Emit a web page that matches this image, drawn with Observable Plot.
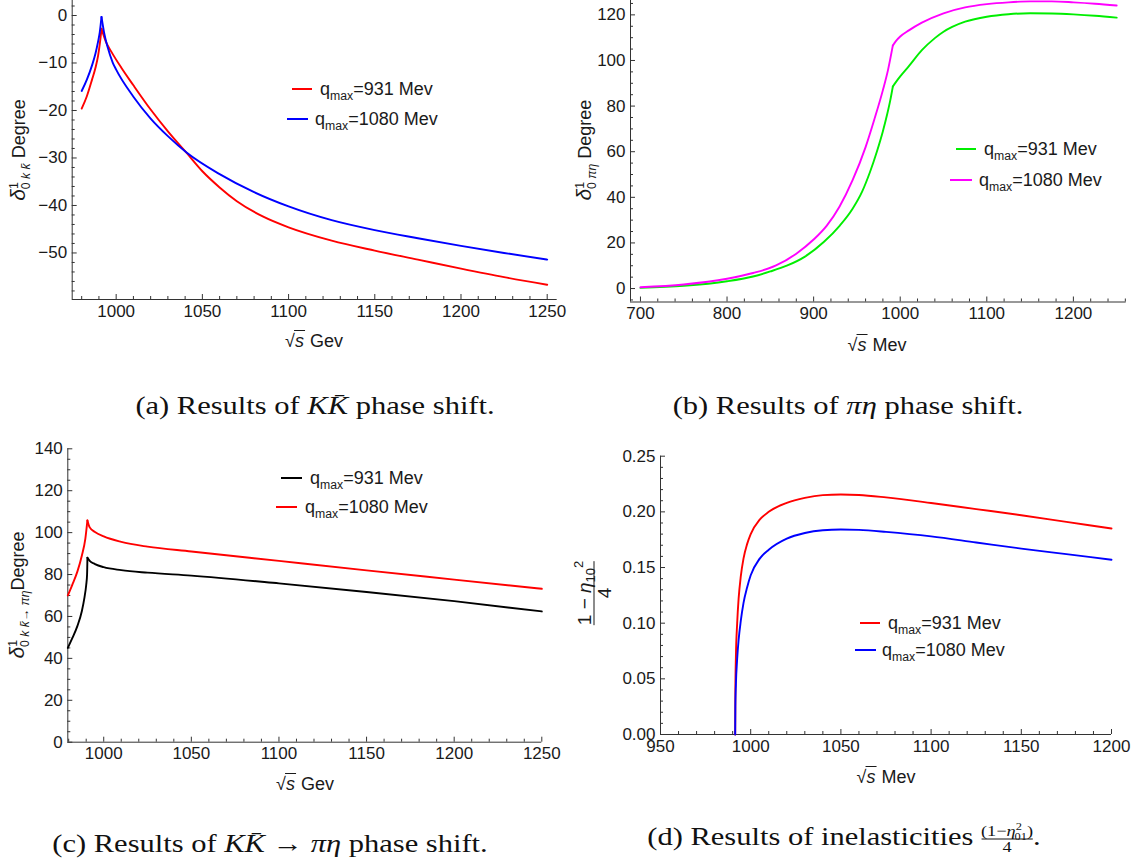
<!DOCTYPE html>
<html><head><meta charset="utf-8">
<script src="https://cdn.jsdelivr.net/npm/d3@7"></script>
<script src="https://cdn.jsdelivr.net/npm/@observablehq/plot@0.6"></script>
<style>
body{margin:0;background:#fff;}
#root{position:relative;width:1134px;height:860px;overflow:hidden;font-family:"Liberation Sans",Arial,sans-serif;color:#1a1a1a;}
#root svg{position:absolute;}
.lab{position:absolute;white-space:nowrap;font-size:18px;line-height:1;}
.rot{transform:translate(-50%,-50%) rotate(-90deg);}
.ctr{transform:translate(-50%,-50%);}
.leg{position:absolute;white-space:nowrap;font-size:18px;line-height:1;transform:translateY(-50%);}
.sw{position:absolute;height:0;border-top:2px solid;}
.cap{position:absolute;white-space:nowrap;font-family:"Liberation Serif","DejaVu Serif",serif;font-size:25px;line-height:1;transform:translate(-50%,-50%) scaleX(1.22);color:#111;}
sub,sup{font-size:0.68em;line-height:0;}
.rad{border-top:1.4px solid #1a1a1a;padding:0 1px;margin-left:-1px;}
.frac{display:inline-flex;flex-direction:column;align-items:center;vertical-align:middle;}
.frac .den{border-top:1.2px solid;width:100%;text-align:center;}
</style></head>
<body><div id="root"></div>
<script>
// ---------- data ----------
// (a) K Kbar phase shift
const aX931 = [980, 983, 986, 988, 989.5, 990.5, 991.5, 994, 997, 1003, 1010, 1020, 1030, 1041, 1050, 1060, 1070, 1085, 1100, 1125, 1150, 1175, 1200, 1225, 1250];
const aY931 = [-19.6, -17, -13.5, -11, -8.5, -6, -2.8, -5.5, -7.5, -11, -14.7, -19.8, -24.4, -29.0, -32.8, -36.2, -39.1, -42.3, -44.6, -47.4, -49.5, -51.4, -53.3, -55.1, -56.7];
const aX1080 = [980, 983, 986, 988, 989.5, 990.5, 991.5, 993, 995, 998, 1000, 1010, 1020, 1030, 1041, 1060, 1080, 1100, 1125, 1150, 1175, 1200, 1225, 1250];
const aY1080 = [-15.9, -13.5, -10.5, -8, -5.5, -3.5, -0.3, -3.6, -6.6, -9.9, -11.4, -17.1, -21.7, -25.4, -28.9, -33.4, -37.2, -40.2, -43.1, -45.2, -46.9, -48.5, -50, -51.4];
const aKink = 991.5;
const aXTicks = [1000, 1050, 1100, 1150, 1200, 1250];
const aYTicks = [0, -10, -20, -30, -40, -50];

// (b) pi eta phase shift
const bX931 = [700, 750, 800, 830, 850, 869, 890, 912, 930, 945, 956, 965, 973, 980, 985, 988.5, 991.5, 995, 1000, 1010, 1025, 1040, 1050, 1060, 1075, 1100, 1125, 1150, 1175, 1200, 1225, 1250];
const bY931 = [0.3, 1.2, 3.2, 5.3, 7.5, 10, 14, 20.5, 27.5, 35, 42.5, 51, 60, 69, 76.5, 82.5, 88.6, 90.5, 93, 97.5, 104.5, 109.8, 112.6, 114.7, 117, 119.2, 120.3, 120.7, 120.6, 120.2, 119.6, 118.8];
const bX1080 = [700, 750, 800, 830, 856, 880, 900, 915, 930, 945, 960, 970, 980, 986, 991.5, 995, 1000, 1010, 1025, 1050, 1075, 1100, 1125, 1150, 1175, 1200, 1225, 1250];
const bY1080 = [0.6, 1.8, 4.3, 6.8, 10, 15.3, 21.5, 27.5, 36, 47.5, 62, 74, 87, 96, 106.6, 108.5, 110.5, 113.2, 116.6, 120.7, 123.3, 124.7, 125.5, 125.9, 125.9, 125.5, 124.9, 124.1];
const bKink = 991.5;
const bXTicks = [700, 800, 900, 1000, 1100, 1200];
const bYTicks = [0, 20, 40, 60, 80, 100, 120];

// (c) K Kbar -> pi eta phase shift
const cX931 = [979.5, 982, 985, 987.5, 989, 990, 990.5, 990.7, 992, 995, 1000, 1010, 1025, 1050, 1100, 1150, 1200, 1250];
const cY931 = [45, 49.5, 55.5, 62.5, 69, 75, 80, 88, 86.5, 85, 83.5, 82.1, 80.9, 79.5, 75.8, 71.7, 67.3, 62.4];
const cX1080 = [979.5, 982, 985, 987.5, 989.5, 990.7, 992, 995, 1000, 1010, 1025, 1050, 1100, 1150, 1200, 1250];
const cY1080 = [70, 75, 81.5, 89, 97, 105.8, 102.5, 100.3, 98.2, 95.6, 93.3, 91, 86.5, 82, 77.6, 73.2];
const cKink = 990.7;
const cXTicks = [1000, 1050, 1100, 1150, 1200, 1250];
const cYTicks = [0, 20, 40, 60, 80, 100, 120, 140];

// (d) inelasticities
const dX931 = [991.4, 991.5, 991.8, 992.5, 993.3, 994.5, 996, 998, 1000, 1005, 1010, 1020, 1030, 1040, 1050, 1060, 1075, 1100, 1125, 1150, 1175, 1200];
const dY931 = [0, 0.04, 0.07, 0.1, 0.122, 0.142, 0.158, 0.171, 0.18, 0.193, 0.2, 0.208, 0.2125, 0.215, 0.2156, 0.2152, 0.213, 0.208, 0.2025, 0.197, 0.191, 0.185];
const dX1080 = [991.4, 991.5, 991.8, 992.5, 993.3, 994.5, 996, 998, 1000, 1005, 1010, 1020, 1030, 1040, 1050, 1060, 1075, 1100, 1125, 1150, 1175, 1200];
const dY1080 = [0, 0.025, 0.045, 0.068, 0.085, 0.102, 0.118, 0.132, 0.143, 0.158, 0.166, 0.176, 0.181, 0.1835, 0.1842, 0.1838, 0.182, 0.178, 0.1725, 0.167, 0.162, 0.157];
const dXTicks = [950, 1000, 1050, 1100, 1150, 1200];
const dYTicks = [0, 0.05, 0.10, 0.15, 0.20, 0.25];

const series = ["q_max=931 Mev", "q_max=1080 Mev"];

// ---------- helpers ----------
function rows(xs, ys, kink) {
  const out = [];
  xs.forEach((x, i) => {
    if (kink == null) { out.push({x, y: ys[i], z: 0}); return; }
    if (x <= kink) out.push({x, y: ys[i], z: 0});
    if (x >= kink) out.push({x, y: ys[i], z: 1});
  });
  return out;
}
const minus = d => d < 0 ? "\u2212" + Math.abs(d) : String(d);
const root = document.getElementById("root");
const AX = "#333";

function panel(o) {
  const iw = o.width - o.mL - o.mR, ih = o.height - o.mT - o.mB;
  const xMinor = d3.range(o.xMinor[0], o.xMinor[1] + 1e-9, o.xMinor[2]).filter(v => !o.xTicks.some(t => Math.abs(t - v) < 1e-9));
  const yMinor = d3.range(o.yMinor[0], o.yMinor[1] + 1e-9, o.yMinor[2]).filter(v => !o.yTicks.some(t => Math.abs(t - v) < 1e-9));
  const marks = [
    Plot.ruleY([o.yDom[0]], {stroke: AX, strokeWidth: 1}),
    Plot.ruleX([o.xDom[0]], {stroke: AX, strokeWidth: 1}),
    Plot.tickX(o.xTicks, {x: d => d, insetTop: ih - 5, stroke: AX}),
    Plot.tickX(xMinor, {x: d => d, insetTop: ih - 3, stroke: AX}),
    Plot.tickY(o.yTicks, {y: d => d, insetRight: iw - 5, stroke: AX}),
    Plot.tickY(yMinor, {y: d => d, insetRight: iw - 3, stroke: AX}),
    Plot.axisX(o.xTicks, {tickSize: 0, tickPadding: 5, tickFormat: d => String(d), fill: "#1a1a1a", label: null}),
    Plot.axisY(o.yTicks, {tickSize: 0, tickPadding: 5, tickFormat: o.yFmt, fill: "#1a1a1a", label: null})
  ];
  o.lines.forEach(l => marks.push(Plot.line(l.data, {x: "x", y: "y", z: "z", stroke: l.color, strokeWidth: 1.9, curve: "monotone-x"})));
  const svg = Plot.plot({
    width: o.width, height: o.height,
    marginLeft: o.mL, marginRight: o.mR, marginTop: o.mT, marginBottom: o.mB,
    x: {domain: o.xDom, label: null}, y: {domain: o.yDom, label: null},
    style: {fontFamily: '"Liberation Sans", Arial, sans-serif', fontSize: "17px", background: "transparent", overflow: "visible"},
    marks
  });
  svg.style.left = o.left + "px";
  svg.style.top = o.top + "px";
  root.appendChild(svg);
}

function html(cls, x, y, inner, extra) {
  const d = document.createElement("div");
  d.className = cls;
  d.style.left = x + "px"; d.style.top = y + "px";
  if (extra) Object.assign(d.style, extra);
  d.innerHTML = inner;
  root.appendChild(d);
  return d;
}
function legend(x0, x1, y, tx, color, label) {
  html("sw", x0, y - 1, "", {width: (x1 - x0) + "px", borderTopColor: color});
  const [q, rest] = label.split("_max");
  html("leg", tx, y, q + "<sub>max</sub>" + rest);
}
const sqrtS = '√<span class="rad"><i>s</i></span>';

// ---------- panels ----------
panel({left: 0, top: 0, width: 567, height: 330, mL: 71.7, mR: 10.3, mT: 0, mB: 31,
  xDom: [974.5, 1255.8], yDom: [-59.8, 3.16], xTicks: aXTicks, yTicks: aYTicks,
  xMinor: [980, 1250, 10], yMinor: [-58, 2, 2], yFmt: minus,
  lines: [{data: rows(aX931, aY931, aKink), color: "#ff0000"}, {data: rows(aX1080, aY1080, aKink), color: "#0000ff"}]});

panel({left: 567, top: 0, width: 567, height: 330, mL: 63, mR: 8.3, mT: 0, mB: 28.5,
  xDom: [688.5, 1261], yDom: [-5.9, 126.3], xTicks: bXTicks, yTicks: bYTicks,
  xMinor: [700, 1260, 20], yMinor: [-5, 125, 5], yFmt: d => String(d),
  lines: [{data: rows(bX931, bY931, bKink), color: "#00ee00"}, {data: rows(bX1080, bY1080, bKink), color: "#ff00ff"}]});

panel({left: 0, top: 430, width: 567, height: 340, mL: 67.3, mR: 25.7, mT: 18.3, mB: 28.3,
  xDom: [979.5, 1250], yDom: [0, 140], xTicks: cXTicks, yTicks: cYTicks,
  xMinor: [980, 1250, 10], yMinor: [0, 140, 5], yFmt: d => String(d),
  lines: [{data: rows(cX931, cY931, cKink), color: "#000000"}, {data: rows(cX1080, cY1080, cKink), color: "#ff0000"}]});

panel({left: 567, top: 430, width: 567, height: 340, mL: 93, mR: 23, mT: 25.7, mB: 36,
  xDom: [950, 1200], yDom: [0, 0.25], xTicks: dXTicks, yTicks: dYTicks,
  xMinor: [950, 1200, 10], yMinor: [0, 0.25, 0.01], yFmt: d => d.toFixed(2),
  lines: [{data: rows(dX931, dY931, null), color: "#ff0000"}, {data: rows(dX1080, dY1080, null), color: "#0000ff"}]});

// ---------- axis labels ----------
html("lab rot", 17, 150, '<i style="font-size:21px">δ</i><sup>1</sup><sub style="margin-left:-7px">0 <i>k</i> <i>k̄</i></sub> Degree');
html("lab ctr", 314, 341, sqrtS + " Gev");
html("lab rot", 583, 150, '<i style="font-size:21px">δ</i><sup>1</sup><sub style="margin-left:-7px">0 <i>πη</i></sub> Degree');
html("lab ctr", 877, 345, sqrtS + " Mev");
html("lab rot", 16, 595, '<i style="font-size:21px">δ</i><sup>1</sup><sub style="margin-left:-7px">0 <i>k</i> <i>k̄</i>→ <i>πη</i></sub>Degree');
html("lab ctr", 305, 784, sqrtS + " Gev");
html("lab rot", 594, 593, '<span class="frac" style="font-size:19px"><span>1 − <i>η</i><sub>10</sub><sup>2</sup></span><span class="den">4</span></span>');
html("lab ctr", 886, 777, sqrtS + " Mev");

// ---------- legends ----------
legend(292, 312, 89, 320, "#ff0000", series[0]);
legend(287, 308, 119, 315, "#0000ff", series[1]);
legend(956, 976, 149, 984, "#00ee00", series[0]);
legend(950, 972, 180, 979, "#ff00ff", series[1]);
legend(281, 302, 478, 310, "#000000", series[0]);
legend(276, 297, 507, 305, "#ff0000", series[1]);
legend(860, 880, 623, 888, "#ff0000", series[0]);
legend(855, 876, 650, 882, "#0000ff", series[1]);

// ---------- captions ----------
html("cap", 315, 405, '(a) Results of <i>K</i><i>K̄</i> phase shift.');
html("cap", 848, 405, '(b) Results of <i>πη</i> phase shift.');
html("cap", 270, 843, '(c) Results of <i>K</i><i>K̄</i> → <i>πη</i> phase shift.');
html("cap", 844, 839, '(d) Results of inelasticities <span class="frac" style="font-size:15px"><span>(1−<i>η</i><sup>2</sup><sub style="margin-left:-6px">01</sub>)</span><span class="den">4</span></span>.');
</script></body></html>
